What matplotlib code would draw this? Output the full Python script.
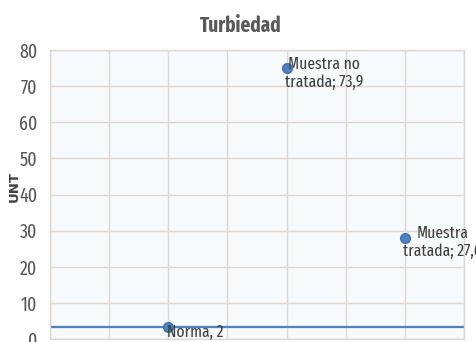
import matplotlib
matplotlib.use("Agg")
import matplotlib.pyplot as plt

# ---- data ----
categories = ["Norma", "Muestra no\ntratada", "Muestra\ntratada"]
x_positions = [2, 4, 6]
point_values = [3.2, 75.0, 28.0]
label_values = ["2", "73,9", "27,6"]
label_seps = [", ", "; ", "; "]
norma_line = 3.2
y_ticks = [0, 10, 20, 30, 40, 50, 60, 70, 80]
x_grid = [0, 1, 2, 3, 4, 5, 6, 7]

plt.rcParams['font.family'] = ['Fira Sans Extra Condensed', 'DejaVu Sans']

fig = plt.figure(figsize=(4.76, 3.42), dpi=100)
ax = fig.add_axes([50/476, 1-339/342, (464-50)/476, (339-50)/342])
ax.set_facecolor("#f8f9fb")

ax.set_xlim(x_grid[0], x_grid[-1])
ax.set_ylim(y_ticks[0], y_ticks[-1])
ax.set_yticks(y_ticks)
ax.set_xticks(x_grid)
ax.set_xticklabels([])
ax.tick_params(axis='both', length=0)
ax.tick_params(axis='y', labelsize=14, labelcolor="#595959", pad=9)
ax.grid(True, color="#ddd8d6", linewidth=1.0)
ax.set_axisbelow(True)
for s in ax.spines.values():
    s.set_color("#ddd8d6")
    s.set_linewidth(1.0)

ax.axhline(norma_line, color="#4f81bd", linewidth=1.6, zorder=2)
ax.plot(x_positions, point_values, linestyle='none', marker='o', markersize=7,
        markerfacecolor="#4f81bd", markeredgecolor="#3d6fb0", zorder=3, clip_on=False)

for xp, yv, cat, sep, lv in zip(x_positions, point_values, categories, label_seps, label_values):
    ax.annotate(f"{cat}{sep}{lv}", (xp, yv), xytext=(-1, -3.5), textcoords='offset points',
                ha='left', va='center', multialignment='center', fontsize=12.2,
                color="#404040", annotation_clip=False, zorder=4, linespacing=1.15)

fig.text(241/476, 1-26/342, "Turbiedad", ha='center', va='center', fontsize=15,
         fontweight='bold', color="#595959")
fig.text(14/476, 1-186/342, "UNT", ha='center', va='center', rotation=90,
         fontsize=9.5, fontweight='bold', color="#404040", family='DejaVu Sans')

fig.savefig("out.png", dpi=100)
